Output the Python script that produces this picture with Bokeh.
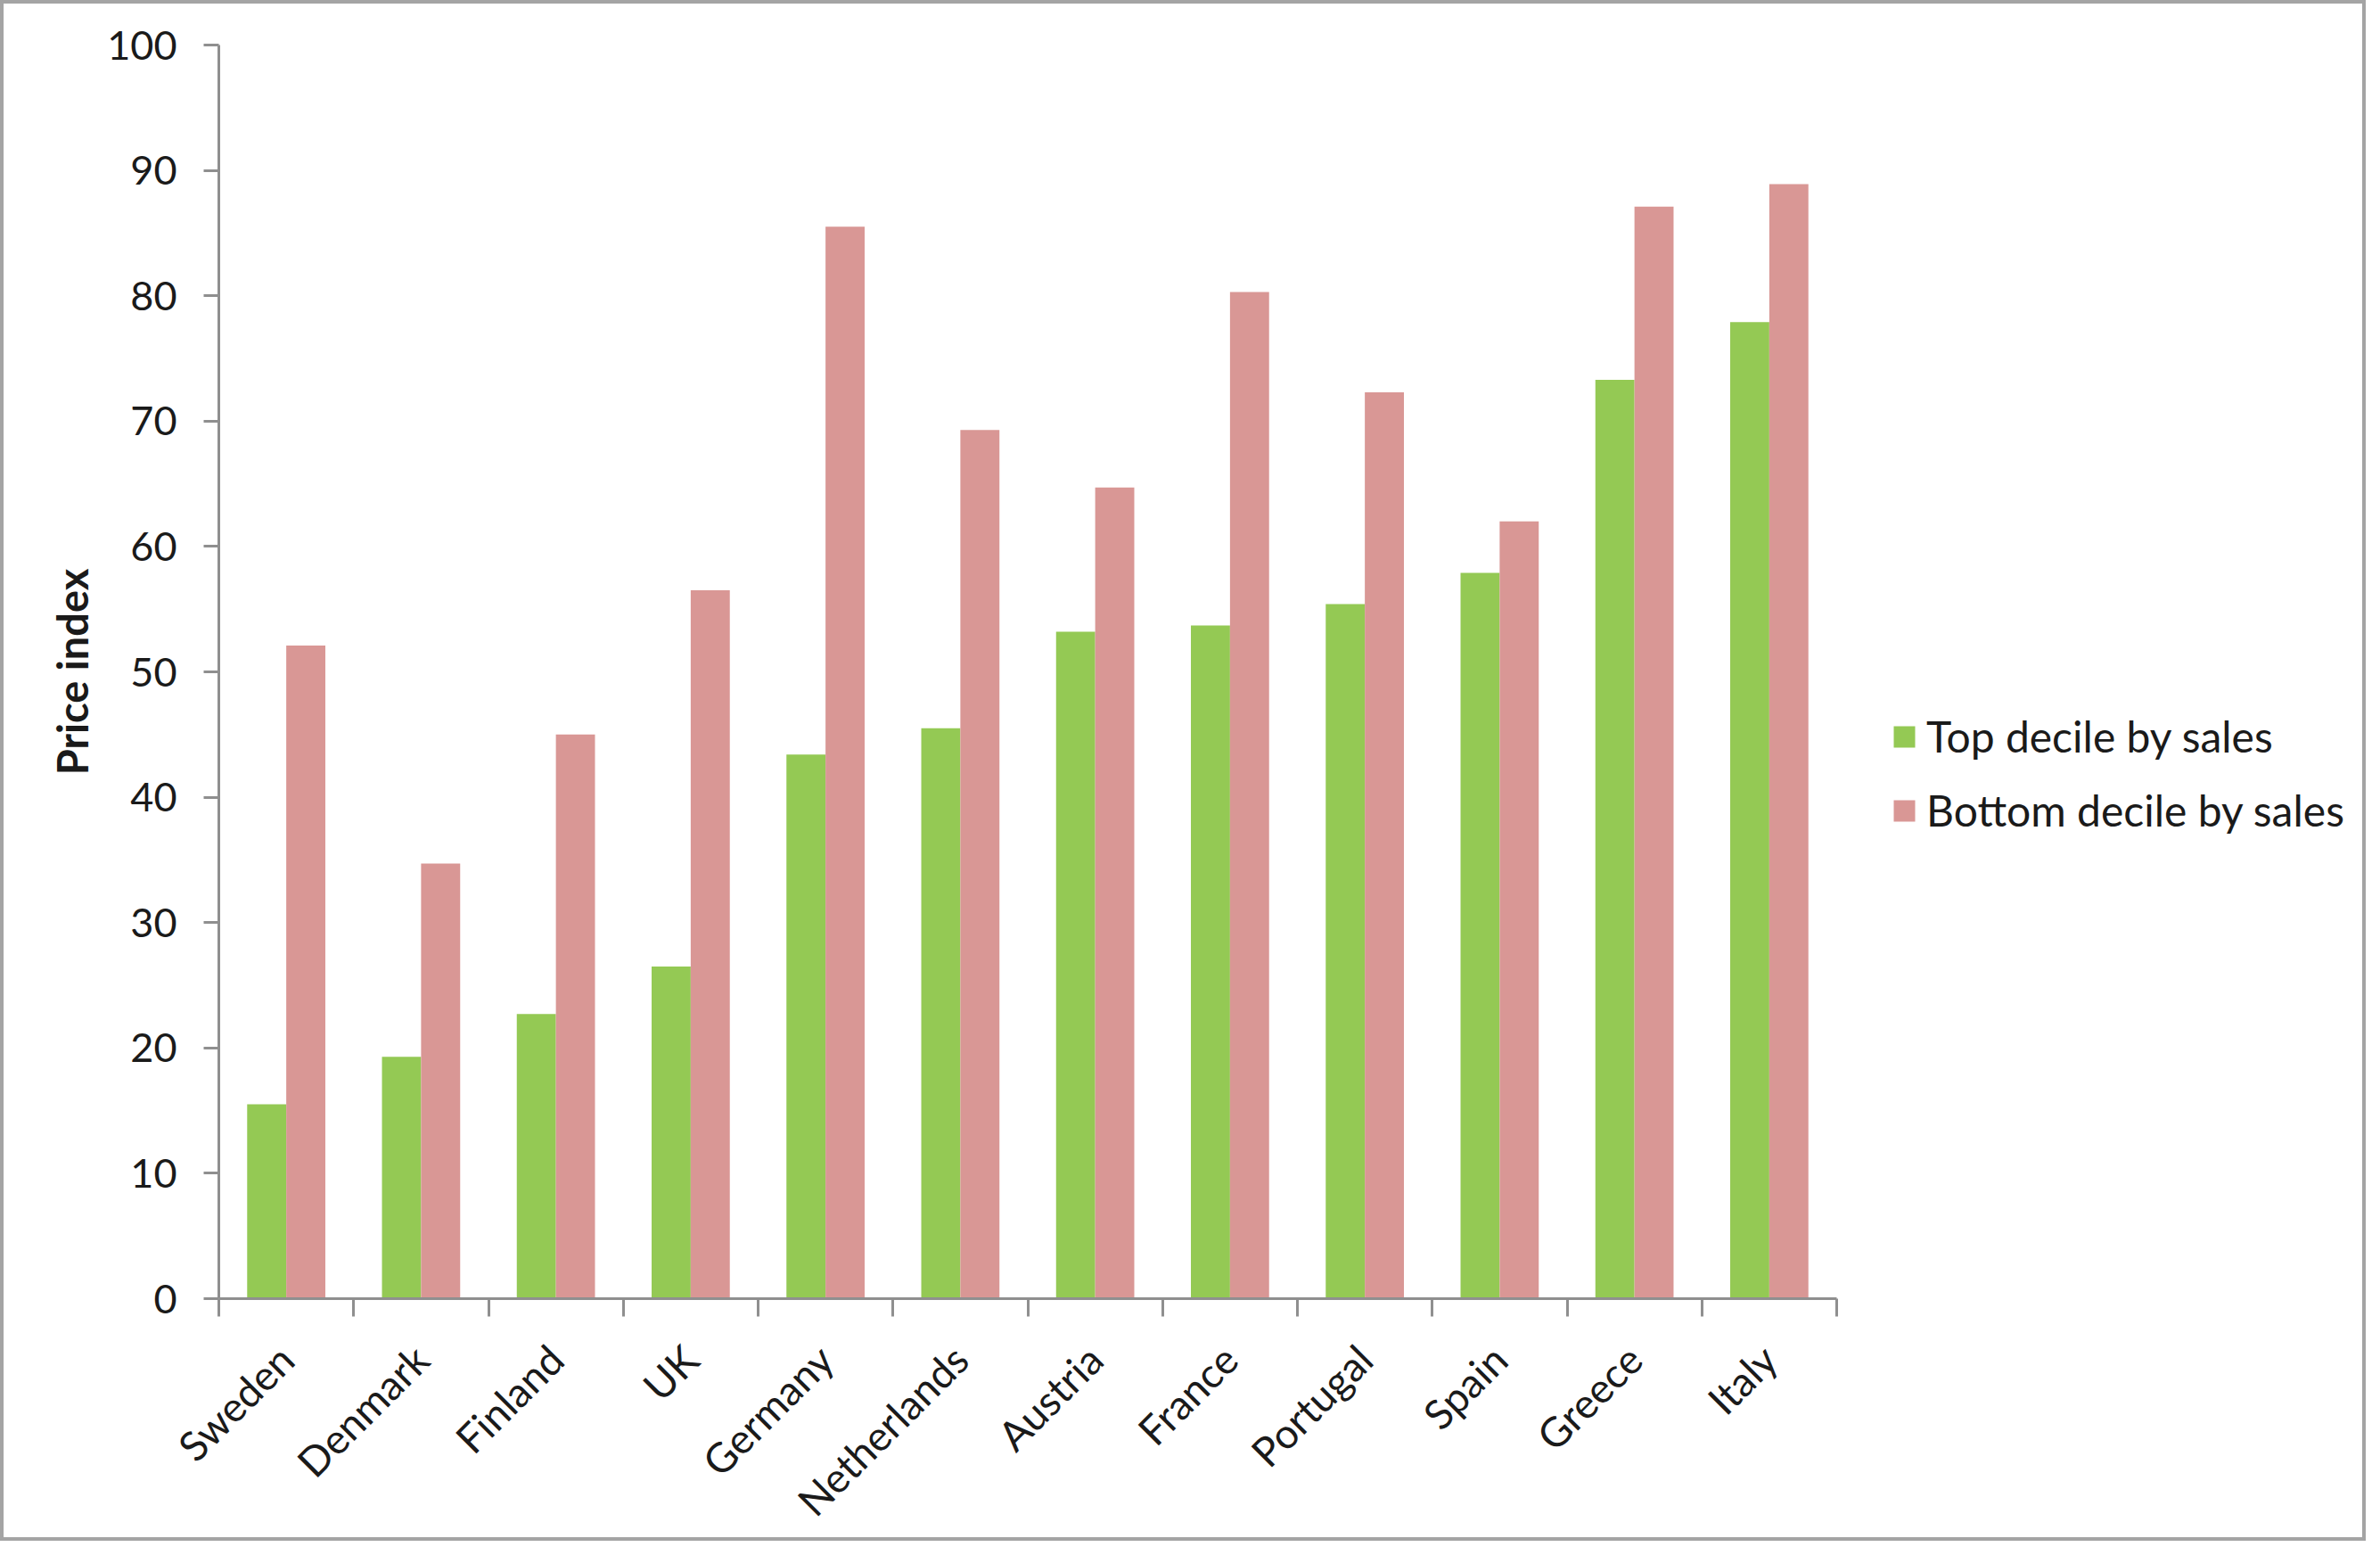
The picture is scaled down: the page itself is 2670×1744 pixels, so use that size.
import math
from bokeh.plotting import figure
from bokeh.models import Range1d, FixedTicker, Legend, LegendItem, ColumnDataSource
from bokeh.transform import dodge
from bokeh.embed import file_html
from bokeh.resources import INLINE

countries = ["Sweden", "Denmark", "Finland", "UK", "Germany", "Netherlands",
             "Austria", "France", "Portugal", "Spain", "Greece", "Italy"]
top_decile = [15.5, 19.3, 22.7, 26.5, 43.4, 45.5, 53.2, 53.7, 55.4, 57.9, 73.3, 77.9]
bottom_decile = [52.1, 34.7, 45.0, 56.5, 85.5, 69.3, 64.7, 80.3, 72.3, 62.0, 87.1, 88.9]
y_ticks = list(range(0, 101, 10))
series_names = ["Top decile by sales", "Bottom decile by sales"]

FONT = "Lato"
AXIS_COLOR = "#8f8f8f"
GREEN = "#94C954"
PINK = "#D99795"

W, H = 2654, 1728
LEFT, RIGHT, TOP, BOTTOM = 241, 20, 46, 273
DATA_W = 1815  # pixel width of the categorical area
frame_w = W - LEFT - RIGHT

n = len(countries)
centers = [i + 0.5 for i in range(n)]
boundaries = list(range(n + 1))

src = ColumnDataSource(dict(x=centers, top=top_decile, bottom=bottom_decile))

p = figure(width=W, height=H, output_backend="svg", toolbar_location=None,
           x_range=Range1d(0, n * frame_w / DATA_W), y_range=Range1d(0, 100),
           min_border_left=LEFT, min_border_right=RIGHT, min_border_top=TOP,
           min_border_bottom=BOTTOM)
p.styles = {"border": "4px solid #a4a4a4", "box-sizing": "border-box"}

bw = 0.29
r1 = p.vbar(x=dodge("x", -bw / 2, range=p.x_range), top="top", width=bw, source=src,
            fill_color=GREEN, line_color=None)
r2 = p.vbar(x=dodge("x", bw / 2, range=p.x_range), top="bottom", width=bw, source=src,
            fill_color=PINK, line_color=None)

p.xgrid.visible = False
p.ygrid.visible = False
p.outline_line_color = None
p.background_fill_color = "white"
p.border_fill_color = "white"

# x axis
xa = p.xaxis[0]
xa.bounds = (0, n)
xa.ticker = FixedTicker(ticks=centers, minor_ticks=boundaries)
xa.major_label_overrides = {c: name for c, name in zip(centers, countries)}
xa.major_label_orientation = math.pi / 4
xa.major_tick_line_color = None
xa.major_tick_out = 0
xa.major_tick_in = 0
xa.minor_tick_line_color = AXIS_COLOR
xa.minor_tick_line_width = 3
xa.minor_tick_out = 20
xa.minor_tick_in = 0
xa.axis_line_color = AXIS_COLOR
xa.axis_line_width = 3
xa.major_label_text_font = FONT
xa.major_label_text_font_size = "46px"
xa.major_label_text_color = "#1a1a1a"
xa.major_label_standoff = 40

# y axis
ya = p.yaxis[0]
ya.ticker = FixedTicker(ticks=y_ticks)
ya.axis_line_color = AXIS_COLOR
ya.axis_line_width = 3
ya.major_tick_line_color = AXIS_COLOR
ya.major_tick_line_width = 3
ya.major_tick_out = 17
ya.major_tick_in = 0
ya.minor_tick_line_color = None
ya.major_label_text_font = FONT
ya.major_label_text_font_size = "45px"
ya.major_label_text_color = "#1a1a1a"
ya.major_label_standoff = 30
ya.axis_label = "Price index"
ya.axis_label_text_font = FONT
ya.axis_label_text_font_size = "47px"
ya.axis_label_text_font_style = "bold"
ya.axis_label_text_color = "#1a1a1a"
ya.axis_label_standoff = 8

legend = Legend(items=[LegendItem(label=series_names[0], renderers=[r1]),
                       LegendItem(label=series_names[1], renderers=[r2])],
                location=(DATA_W + 61, 519))
legend.glyph_width = 30
legend.glyph_height = 30
legend.label_text_font = FONT
legend.label_text_font_size = "48px"
legend.label_text_color = "#1a1a1a"
legend.label_standoff = 10
legend.spacing = 26
legend.padding = 10
legend.margin = 0
legend.border_line_color = None
legend.background_fill_alpha = 0
p.add_layout(legend)

open("out.html", "w").write(file_html(p, INLINE))
